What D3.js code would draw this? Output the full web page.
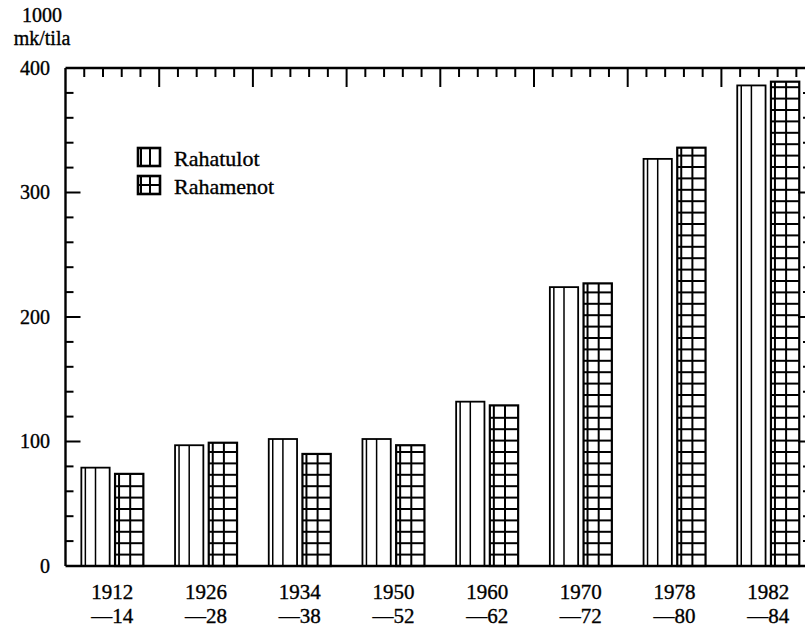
<!DOCTYPE html>
<html>
<head>
<meta charset="utf-8">
<script src="https://cdn.jsdelivr.net/npm/d3@7"></script>
<style>
  html, body { margin: 0; padding: 0; background: #fff; }
  svg { display: block; }
  text { font-family: "Liberation Serif", "DejaVu Serif", serif; fill: #000; stroke: #000; stroke-width: 0.35px; }
</style>
</head>
<body>
<svg id="chart" width="805" height="631"></svg>
<script>
// ---- data ----
const periodStart = ["1912", "1926", "1934", "1950", "1960", "1970", "1978", "1982"];
const periodEnd   = ["\u201414", "\u201428", "\u201438", "\u201452", "\u201462", "\u201472", "\u201480", "\u201484"];
const seriesNames = ["Rahatulot", "Rahamenot"];
const rahatulot   = [79, 97, 102, 102, 132, 224, 327, 386];
const rahamenot   = [74, 99, 90, 97, 129, 227, 336, 389];
const yTicks      = [0, 100, 200, 300, 400];
const unitLabel   = ["1000", "mk/tila"];

// ---- layout ----
const svg = d3.select("#chart");
const pLeft = 65.5, pRight = 806, pTop = 68, pBottom = 566;
const step = 93.7;

const x0 = d3.scaleBand().domain(periodStart).range([pLeft, pLeft + step * periodStart.length]).paddingInner(0).paddingOuter(0);
const bw = x0.bandwidth();
const x1 = d3.scaleBand().domain(seriesNames).range([bw / 2 - 31, bw / 2 + 31]).paddingInner(0.16);
const y = d3.scaleLinear().domain([0, 400]).range([pBottom, pTop]);

const rows = periodStart.map((p, i) => ({ p, e: periodEnd[i], vals: [rahatulot[i], rahamenot[i]] }));

const ink = "#000";

// ---- bars ----
const groups = svg.append("g").selectAll("g").data(rows).join("g")
  .attr("transform", d => `translate(${x0(d.p)},0)`);

groups.each(function (d) {
  const g = d3.select(this);
  seriesNames.forEach((s, si) => {
    const v = d.vals[si];
    const bx = x1(s), w = x1.bandwidth();
    const by = y(v), bh = y(0) - y(v);
    g.append("rect").attr("x", bx).attr("y", by).attr("width", w).attr("height", bh)
      .attr("fill", "#fff").attr("stroke", ink).attr("stroke-width", si === 0 ? 1.8 : 2.2);
    const vx = [bx + 4, bx + w / 2 + (si === 0 ? 0 : 1)];
    vx.forEach(xx => g.append("line").attr("x1", xx).attr("x2", xx).attr("y1", by).attr("y2", y(0))
      .attr("stroke", ink).attr("stroke-width", si === 0 ? 1.5 : 2));
    if (si === 1) {
      const rowH = 11.4;
      d3.range(y(0) - rowH, by + 3, -rowH).forEach(yy => {
        g.append("line").attr("x1", bx).attr("x2", bx + w).attr("y1", yy).attr("y2", yy)
          .attr("stroke", ink).attr("stroke-width", 2);
      });
    }
  });
});

// ---- frame ----
const frame = svg.append("g").attr("stroke", ink).attr("fill", "none");
frame.append("line").attr("x1", pLeft).attr("x2", pRight + 2).attr("y1", pTop).attr("y2", pTop).attr("stroke-width", 2.4);
frame.append("line").attr("x1", pLeft).attr("x2", pLeft).attr("y1", pTop).attr("y2", pBottom).attr("stroke-width", 2.4);
frame.append("line").attr("x1", pLeft).attr("x2", pRight + 2).attr("y1", pBottom).attr("y2", pBottom).attr("stroke-width", 2.4);
frame.append("line").attr("x1", pRight).attr("x2", pRight).attr("y1", pTop).attr("y2", pBottom).attr("stroke-width", 1.5);

// left & right minor/major ticks every 20
const yMinor = d3.range(20, 400, 20);
yMinor.forEach(v => {
  const major = v % 100 === 0;
  frame.append("line").attr("x1", pLeft).attr("x2", pLeft + (major ? 15 : 8))
    .attr("y1", y(v)).attr("y2", y(v)).attr("stroke-width", 2);
  frame.append("line").attr("x1", pRight).attr("x2", pRight - (major ? 8 : 3))
    .attr("y1", y(v)).attr("y2", y(v)).attr("stroke-width", 2);
});

// top ticks: 5 per category band, long at band boundaries
d3.range(1, periodStart.length * 5 + 1).forEach(i => {
  const xx = pLeft + i * bw / 5;
  if (xx > pRight - 1) return;
  const major = i % 5 === 0;
  frame.append("line").attr("x1", xx).attr("x2", xx).attr("y1", pTop).attr("y2", pTop + (major ? 19 : 9))
    .attr("stroke-width", 2);
});

// ---- y labels ----
svg.append("g").selectAll("text").data(yTicks).join("text")
  .attr("x", 50).attr("y", d => y(d)).attr("dy", "0.34em")
  .attr("text-anchor", "end").attr("font-size", 20).text(d => d);

svg.append("text").attr("x", 42).attr("y", 22).attr("text-anchor", "middle").attr("font-size", 20).text(unitLabel[0]);
svg.append("text").attr("x", 42).attr("y", 45).attr("text-anchor", "middle").attr("font-size", 20).text(unitLabel[1]);

// ---- x labels ----
const xl = svg.append("g").selectAll("g").data(rows).join("g")
  .attr("transform", d => `translate(${x0(d.p) + bw / 2},0)`);
xl.append("text").attr("y", 599).attr("text-anchor", "middle").attr("font-size", 21).text(d => d.p);
xl.append("text").attr("y", 623).attr("text-anchor", "middle").attr("font-size", 21).text(d => d.e);

// ---- legend ----
const legend = svg.append("g");
const legY = [148, 176];
seriesNames.forEach((s, i) => {
  const g = legend.append("g").attr("transform", `translate(138,${legY[i]})`);
  g.append("rect").attr("width", 22).attr("height", 18).attr("fill", "#fff").attr("stroke", ink).attr("stroke-width", 2.6);
  g.append("line").attr("x1", 3).attr("x2", 3).attr("y1", 0).attr("y2", 18).attr("stroke", ink).attr("stroke-width", 2);
  g.append("line").attr("x1", 12).attr("x2", 12).attr("y1", 0).attr("y2", 18).attr("stroke", ink).attr("stroke-width", 2);
  if (i === 1) g.append("line").attr("x1", 0).attr("x2", 22).attr("y1", 9).attr("y2", 9).attr("stroke", ink).attr("stroke-width", 2);
  g.append("text").attr("x", 36).attr("y", 18).attr("font-size", 22).text(s);
});
</script>
</body>
</html>
